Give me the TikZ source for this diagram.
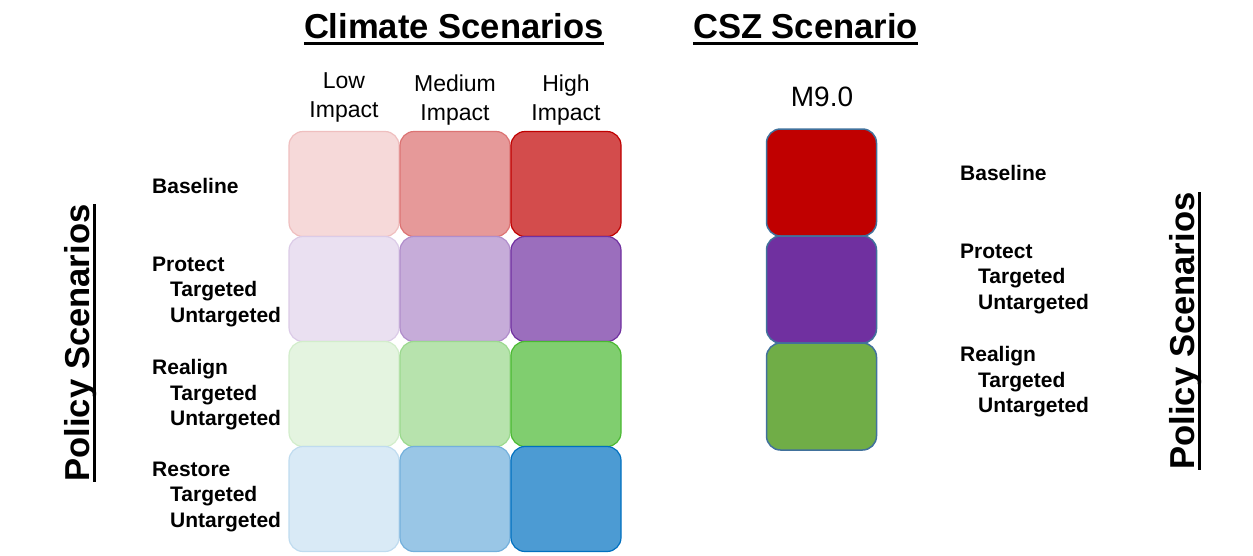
\documentclass[tikz,border=0pt]{standalone}
\usepackage{fontspec}
\setmainfont{Liberation Sans}
\usetikzlibrary{positioning}
\definecolor{impred}{RGB}{192,0,0}
\definecolor{imppurple}{RGB}{112,48,160}
\definecolor{impgreen}{RGB}{74,185,49}
\definecolor{impblue}{RGB}{0,112,192}
\definecolor{cszgreen}{RGB}{112,173,71}
\definecolor{cszedge}{RGB}{65,113,156}
\tikzset{
  cell/.style={rounded corners=14pt,minimum width=110pt,minimum height=105pt,line width=1.2pt},
  cszcell/.style={rounded corners=14pt,minimum width=110pt,minimum height=107pt,line width=1.5pt,draw=cszedge},
  title/.style={font=\fontsize{34.6}{40}\selectfont\bfseries,inner sep=0pt,anchor=base},
  colhead/.style={font=\fontsize{23}{29.5}\selectfont,align=center,inner sep=0pt},
  policy/.style={font=\fontsize{21}{25.5}\selectfont\bfseries,align=left,inner sep=0pt},
  uline/.style={line width=2.5pt}
}
\begin{document}
\begin{tikzpicture}[x=1pt,y=-1pt]
  \useasboundingbox (0,0) rectangle (1253,555);
  % titles
  \node[title] (ctitle) at (454,38) {Climate Scenarios};
  \node[title] (stitle) at (805.5,38) {CSZ Scenario};
  \draw[uline] ([yshift=-5.5pt]ctitle.base west)--([yshift=-5.5pt]ctitle.base east);
  \draw[uline] ([yshift=-5.5pt]stitle.base west)--([yshift=-5.5pt]stitle.base east);
  \node[title,rotate=90] (lpolicy) at (89,343) {Policy Scenarios};
  \node[title,rotate=90] (rpolicy) at (1194,331) {Policy Scenarios};
  \draw[uline] ([xshift=5.5pt]lpolicy.base west)--([xshift=5.5pt]lpolicy.base east);
  \draw[uline] ([xshift=5.5pt]rpolicy.base west)--([xshift=5.5pt]rpolicy.base east);
  % column heads
  \node[colhead] (low) at (344,97.4) {Low\\Impact};
  \node[colhead] (med) at (455,100) {Medium\\Impact};
  \node[colhead] (high) at (566,100) {High\\Impact};
  \node[colhead,font=\fontsize{28}{32}\selectfont] (mag) at (822,97) {M9.0};
  % climate grid
  \foreach \row/\col/\y in {base/impred/184,protect/imppurple/289,realign/impgreen/394,restore/impblue/499}{
    \node[cell,fill=\col!15,draw=\col!25] (\row-low) at (344,\y) {};
    \node[cell,fill=\col!40,draw=\col!55] (\row-med) at (455,\y) {};
    \node[cell,fill=\col!70,draw=\col] (\row-high) at (566,\y) {};
  }
  % CSZ column
  \foreach \row/\col/\y in {base/impred/182.5,protect/imppurple/289.5,realign/cszgreen/396.5}
    \node[cszcell,fill=\col] (csz-\row) at (821.5,\y) {};
  % policy labels
  \node[policy,anchor=west] (lbase) at (152,186) {Baseline};
  \node[policy,anchor=north west] (lprotect) at (152,256.5) {Protect\\\hspace*{18pt}Targeted\\\hspace*{18pt}Untargeted};
  \node[policy,anchor=north west] (lrealign) at (152,359.5) {Realign\\\hspace*{18pt}Targeted\\\hspace*{18pt}Untargeted};
  \node[policy,anchor=north west] (lrestore) at (152,461.5) {Restore\\\hspace*{18pt}Targeted\\\hspace*{18pt}Untargeted};
  \node[policy,anchor=west] (rbase) at (960,173) {Baseline};
  \node[policy,anchor=north west] (rprotect) at (960,243.5) {Protect\\\hspace*{18pt}Targeted\\\hspace*{18pt}Untargeted};
  \node[policy,anchor=north west] (rrealign) at (960,346.5) {Realign\\\hspace*{18pt}Targeted\\\hspace*{18pt}Untargeted};
\end{tikzpicture}
\end{document}
